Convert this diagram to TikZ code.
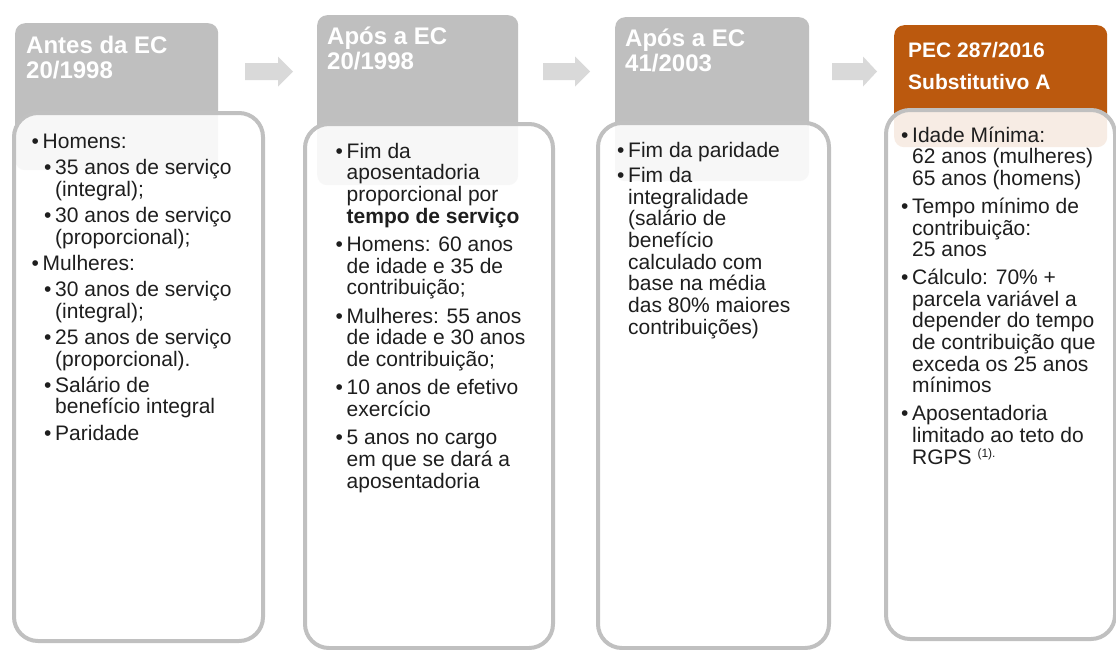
\documentclass[tikz,border=0pt]{standalone}
\usepackage{fontspec}
\setmainfont{Liberation Sans}
\definecolor{hdrgray}{RGB}{191,191,191}
\definecolor{hdrorange}{RGB}{187,89,14}
\definecolor{arrgray}{RGB}{217,217,217}
\definecolor{bordergray}{RGB}{192,192,192}
\definecolor{txt}{RGB}{30,30,30}
\newcommand\bul{\makebox[11pt][l]{•}}
\newcommand\cnt{\hspace*{11pt}}
\newcommand\lvtwo{\hspace*{12.5pt}}
\newcommand\blockarrow[3]{%
  \fill[arrgray] (#1,63) -- (#2,63) -- (#2,56.5) -- (#3,71.5) -- (#2,86.5) -- (#2,80) -- (#1,80) -- cycle;}
\begin{document}
\begin{tikzpicture}[x=1pt,y=-1pt,
  hdr/.style={draw=none, rounded corners=10pt, anchor=north west, inner sep=0pt},
  body/.style={draw=bordergray, line width=4pt, fill=white, fill opacity=0.89, rounded corners=24pt, anchor=north west, inner sep=0pt},
  hdrtext/.style={anchor=north west, inner sep=0pt, align=left, text=white, font=\fontsize{24}{25}\selectfont\bfseries},
  hdrtextb/.style={anchor=north west, inner sep=0pt, align=left, text=white, font=\fontsize{21}{32}\selectfont\bfseries},
  bodytext/.style={anchor=north west, inner sep=0pt, align=left, text=txt, font=\fontsize{21}{21.7}\selectfont}]
\useasboundingbox (0,0) rectangle (1116,649);
\fill[white] (0,0) rectangle (1116,649);

% block arrows
\blockarrow{245}{278}{293}
\blockarrow{543}{575}{590}
\blockarrow{832}{863}{877}

% headers
\node[hdr, fill=hdrgray, minimum width=203pt, minimum height=147pt] (h1) at (15,23) {};
\node[hdr, fill=hdrgray, minimum width=201pt, minimum height=170pt] (h2) at (317,15) {};
\node[hdr, fill=hdrgray, minimum width=194pt, minimum height=164pt] (h3) at (615,17) {};
\node[hdr, fill=hdrorange, minimum width=213pt, minimum height=122pt] (h4) at (894,25) {};

% bodies
\node[body, minimum width=249pt, minimum height=528pt] (b1) at (12,111) {};
\node[body, minimum width=248pt, minimum height=524pt] (b2) at (303,122) {};
\node[body, minimum width=231pt, minimum height=525pt] (b3) at (596,121) {};
\node[body, minimum width=229pt, minimum height=529pt] (b4) at (884,108) {};

% header texts
\node[hdrtext] (t1) at (26,30) {\rule{0pt}{23pt}Antes da EC\\20/1998};
\node[hdrtext] (t2) at (327,21) {\rule{0pt}{23pt}Após a EC\\20/1998};
\node[hdrtext] (t3) at (625,23) {\rule{0pt}{23pt}Após a EC\\41/2003};
\node[hdrtextb] (t4) at (908,34) {\rule{0pt}{23pt}PEC 287/2016\\Substitutivo A};

% body texts
\node[bodytext] (c1) at (31.5,128) {\rule{0pt}{20pt}\bul Homens:\\[4.5pt]
\lvtwo\bul 35 anos de serviço\\
\lvtwo\cnt (integral);\\[4.5pt]
\lvtwo\bul 30 anos de serviço\\
\lvtwo\cnt (proporcional);\\[4.5pt]
\bul Mulheres:\\[4.5pt]
\lvtwo\bul 30 anos de serviço\\
\lvtwo\cnt (integral);\\[4.5pt]
\lvtwo\bul 25 anos de serviço\\
\lvtwo\cnt (proporcional).\\[4.5pt]
\lvtwo\bul Salário de\\
\lvtwo\cnt benefício integral\\[4.5pt]
\lvtwo\bul Paridade};

\node[bodytext] (c2) at (335.5,138) {\rule{0pt}{20pt}\bul Fim da\\
\cnt aposentadoria\\
\cnt proporcional por\\
\cnt \textbf{tempo de serviço}\\[6.5pt]
\bul Homens: 60 anos\\
\cnt de idade e 35 de\\
\cnt contribuição;\\[6.5pt]
\bul Mulheres: 55 anos\\
\cnt de idade e 30 anos\\
\cnt de contribuição;\\[6.5pt]
\bul 10 anos de efetivo\\
\cnt exercício\\[6.5pt]
\bul 5 anos no cargo\\
\cnt em que se dará a\\
\cnt aposentadoria};

\node[bodytext] (c3) at (617,137) {\rule{0pt}{20pt}\bul Fim da paridade\\[3.5pt]
\bul Fim da\\
\cnt integralidade\\
\cnt (salário de\\
\cnt benefício\\
\cnt calculado com\\
\cnt base na média\\
\cnt das 80\% maiores\\
\cnt contribuições)};

\node[bodytext] (c4) at (901,122) {\rule{0pt}{20pt}\bul Idade Mínima:\\
\cnt 62 anos (mulheres)\\
\cnt 65 anos (homens)\\[6pt]
\bul Tempo mínimo de\\
\cnt contribuição:\\
\cnt 25 anos\\[6pt]
\bul Cálculo: 70\% +\\
\cnt parcela variável a\\
\cnt depender do tempo\\
\cnt de contribuição que\\
\cnt exceda os 25 anos\\
\cnt mínimos\\[6pt]
\bul Aposentadoria\\
\cnt limitado ao teto do\\
\cnt RGPS \raisebox{7pt}{\fontsize{12}{12}\selectfont(1).}};
\end{tikzpicture}
\end{document}
